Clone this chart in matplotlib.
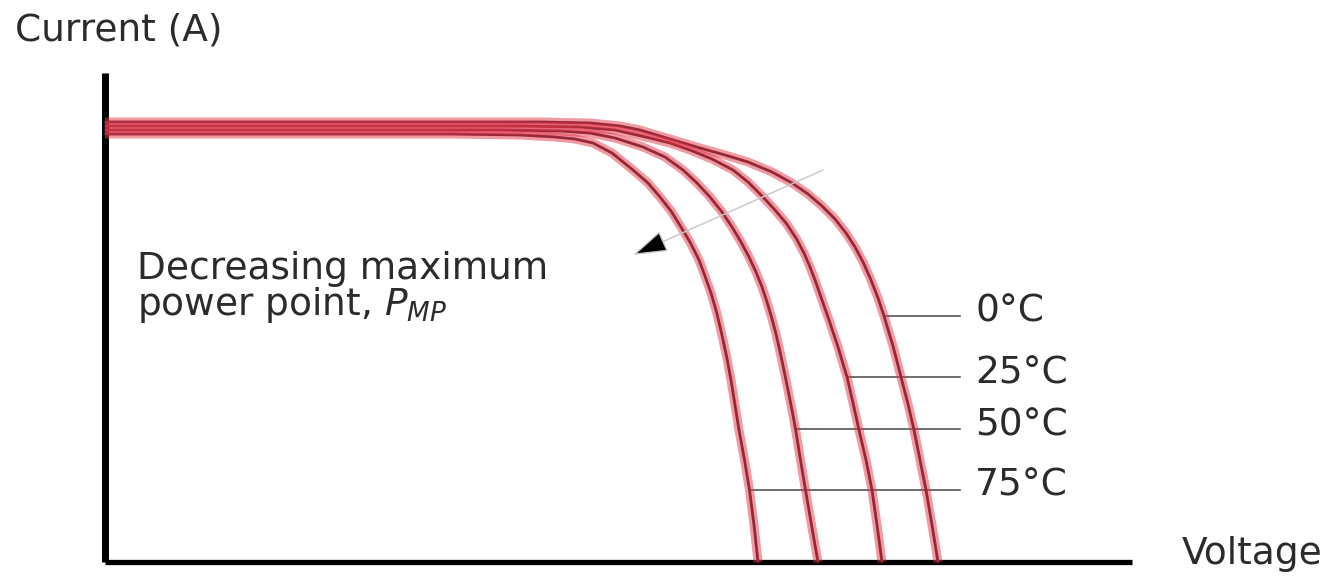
import matplotlib.pyplot as plt

# I-V curves (voltage, current in arbitrary units)
v_0c = [0, 21.75, 24.25, 25.75, 26.75, 27.75, 28.75, 29.75, 31.0, 32.15, 33.35, 34.35, 35.15, 35.85, 36.5,
        37.05, 37.5, 37.9, 38.3, 38.65, 38.95, 39.4, 39.8, 40.15, 40.45, 40.75, 41.05, 41.35, 41.65]
i_0c = [4.40, 4.40, 4.39, 4.36, 4.32, 4.26, 4.20, 4.14, 4.07, 4.00, 3.90, 3.79, 3.68, 3.56, 3.43,
        3.29, 3.15, 3.00, 2.82, 2.64, 2.46, 2.16, 1.85, 1.58, 1.32, 1.02, 0.72, 0.37, 0]

v_25c = [0, 20.75, 23.75, 25.5, 27.25, 28.25, 29.25, 30.35, 31.4, 32.15, 32.9, 33.5, 34.05, 34.55,
         34.95, 35.25, 35.5, 35.85, 36.2, 36.65, 37.1, 37.4, 37.7, 38.05, 38.35, 38.6, 38.85]
i_25c = [4.36, 4.36, 4.35, 4.32, 4.24, 4.19, 4.12, 4.03, 3.92, 3.80, 3.65, 3.52, 3.39, 3.24,
         3.09, 2.95, 2.82, 2.62, 2.42, 2.15, 1.85, 1.59, 1.32, 1.02, 0.72, 0.37, 0]

v_50c = [0, 19.75, 22.75, 24.25, 25.5, 26.9, 28.0, 28.9, 29.6, 30.25, 30.85, 31.35, 31.8, 32.2,
         32.55, 32.85, 33.1, 33.325, 33.525, 33.7, 33.925, 34.15, 34.35, 34.525, 34.775, 35.025, 35.325, 35.65]
i_50c = [4.32, 4.32, 4.31, 4.29, 4.24, 4.15, 4.05, 3.92, 3.79, 3.65, 3.50, 3.35, 3.20, 3.05,
         2.90, 2.75, 2.60, 2.45, 2.30, 2.15, 1.94, 1.72, 1.52, 1.33, 1.02, 0.72, 0.37, 0]

v_75c = [0, 17.25, 20.75, 22.5, 23.5, 24.4, 25.35, 26.4, 27.15, 27.75, 28.3, 28.8, 29.275, 29.7,
         30.0, 30.3, 30.575, 30.825, 31.075, 31.3, 31.5, 31.7, 31.975, 32.225, 32.45, 32.65]
i_75c = [4.28, 4.28, 4.27, 4.25, 4.23, 4.19, 4.09, 3.92, 3.79, 3.65, 3.51, 3.35, 3.19, 3.02,
         2.86, 2.69, 2.50, 2.29, 2.06, 1.82, 1.57, 1.32, 1.02, 0.72, 0.37, 0]

temp_labels = ['0°C', '25°C', '50°C', '75°C']
# where each label's leader line touches its curve
leader_v = [38.95, 37.1, 34.525, 32.225]
leader_i = [2.46, 1.85, 1.33, 0.72]

fig = plt.figure(figsize=(13.3, 5.81), dpi=100)
ax = fig.add_axes([0, 0, 1, 1])
ax.set_xlim(-5.25, 61.25)
ax.set_ylim(-0.19, 5.62)
ax.axis('off')

text_col = '#2b2b2b'
fs = 27

# axes drawn as plain lines
ax.plot([0, 0], [0, 4.89], color='black', lw=5, solid_capstyle='butt')
ax.plot([0, 51.35], [0, 0], color='black', lw=3.8, solid_capstyle='butt')

curves = [(v_0c, i_0c), (v_25c, i_25c), (v_50c, i_50c), (v_75c, i_75c)]
for v, i in curves:
    ax.plot(v, i, color='#4a1822', lw=2.0, solid_joinstyle='round', zorder=2)
for v, i in curves:
    ax.plot(v, i, color='#e2364a', lw=6.5, alpha=0.5, solid_joinstyle='round',
            solid_capstyle='butt', zorder=3)

# leader lines and temperature labels
for lab, lv, li in zip(temp_labels, leader_v, leader_i):
    ax.plot([lv, 42.75], [li, li], color='#555555', lw=1.2, zorder=1)
    ax.text(43.5, li + 0.04, lab, fontsize=fs, color=text_col, va='center', ha='left')

# maximum power point trend with arrow
ax.annotate('', xy=(26.4, 3.07), xytext=(35.9, 3.92),
            arrowprops=dict(arrowstyle='-|>,head_length=1.1,head_width=0.35',
                            ec='#c8c8c8', fc='black', lw=1,
                            mutation_scale=20, shrinkA=0, shrinkB=0))

ax.text(1.6, 2.47, 'Decreasing maximum\npower point, $P_{MP}$', fontsize=fs,
        color=text_col, va='baseline', ha='left', linespacing=0.92)

ax.text(-4.5, 5.32, 'Current (A)', fontsize=fs, color=text_col, va='center', ha='left')
ax.text(60.85, 0.08, 'Voltage', fontsize=fs, color=text_col, va='center', ha='right')

fig.savefig('out.png', dpi=100)
